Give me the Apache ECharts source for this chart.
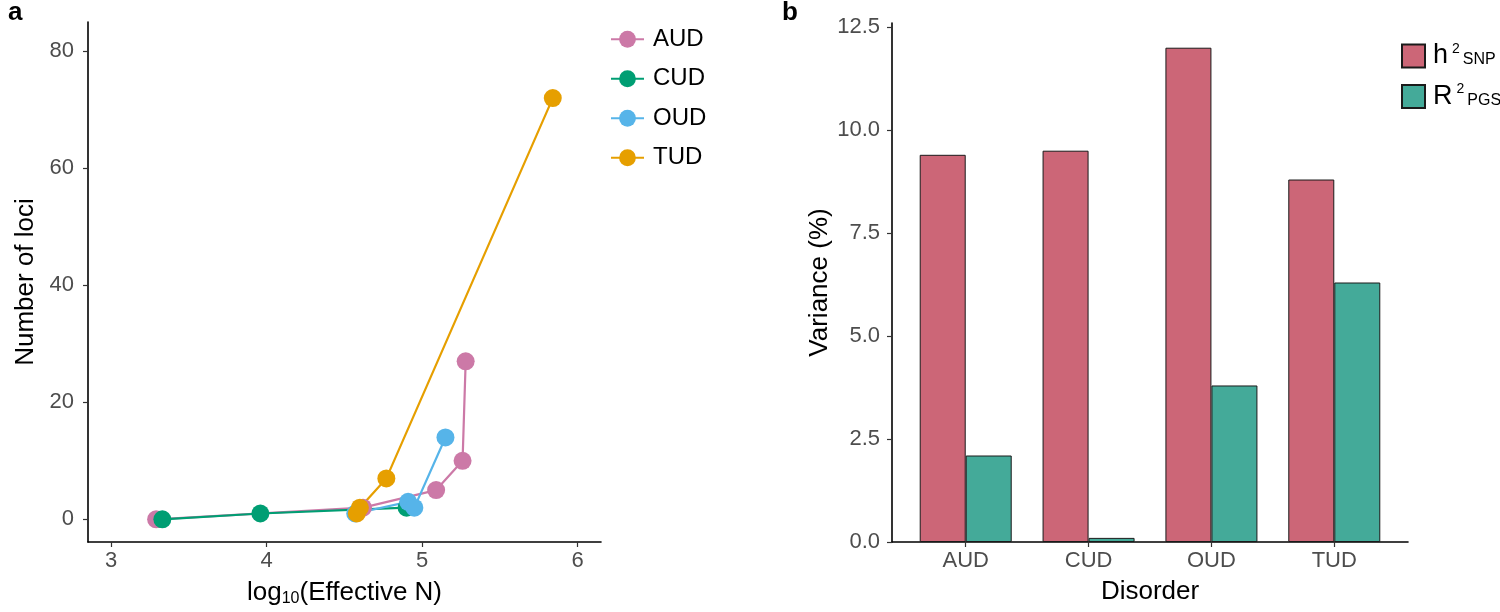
<!DOCTYPE html>
<html>
<head>
<meta charset="utf-8">
<script src="https://cdn.jsdelivr.net/npm/echarts@6/dist/echarts.min.js"></script>
<style>html,body{margin:0;padding:0;background:#fff;}#c{width:1500px;height:612px;}</style>
</head>
<body>
<div id="c"></div>
<script>
// Panel a: number of loci vs log10(effective N)
const disorders = ['AUD', 'CUD', 'OUD', 'TUD'];
const audX = [3.29, 4.62, 5.09, 5.26, 5.28];
const audY = [0, 2, 5, 10, 27];
const cudX = [3.33, 3.96, 4.90];
const cudY = [0, 1, 2];
const oudX = [4.57, 4.91, 4.95, 5.15];
const oudY = [1, 3, 2, 14];
const tudX = [4.58, 4.60, 4.77, 5.84];
const tudY = [1, 2, 7, 72];
const lociXTicks = [3, 4, 5, 6];
const lociYTicks = [0, 20, 40, 60, 80];

// Panel b: variance explained
const barCategories = ['AUD', 'CUD', 'OUD', 'TUD'];
const h2snp = [9.4, 9.5, 12.0, 8.8];
const r2pgs = [2.1, 0.1, 3.8, 6.3];
const varTicks = [0, 2.5, 5, 7.5, 10, 12.5];

const lineColors = ['#CC79A7', '#009E73', '#56B4E9', '#E69F00'];
const barColors = ['#CC6677', '#44AA99'];
const FONT = '"Liberation Sans", Arial, Helvetica, sans-serif';

const zip = (xs, ys) => xs.map((x, i) => [x, ys[i]]);
const lineData = [zip(audX, audY), zip(cudX, cudY), zip(oudX, oudY), zip(tudX, tudY)];

const axisLineStyle = { show: true, onZero: false, lineStyle: { color: '#000', width: 1.6 } };
const tickStyle = { show: true, length: 5, lineStyle: { color: '#333', width: 1.2 } };
const labelStyle = { color: '#4d4d4d', fontSize: 22, fontFamily: FONT };
const nameStyle = { color: '#000', fontSize: 26, fontFamily: FONT };

const chart = echarts.init(document.getElementById('c'), null, { renderer: 'canvas' });
chart.setOption({
  animation: false,
  backgroundColor: '#fff',
  textStyle: { fontFamily: FONT },
  title: [
    { text: 'a', left: 3, top: -5, textStyle: { fontSize: 26, fontWeight: 'bold', color: '#000', fontFamily: FONT } },
    { text: 'b', left: 777, top: -5, textStyle: { fontSize: 26, fontWeight: 'bold', color: '#000', fontFamily: FONT } }
  ],
  grid: [
    { left: 88, top: 22, width: 513, height: 520, containLabel: false },
    { left: 892, top: 23, width: 516, height: 519, containLabel: false }
  ],
  legend: [
    {
      data: disorders,
      orient: 'vertical',
      left: 605,
      top: 22,
      itemGap: 15,
      itemWidth: 33,
      itemHeight: 21,
      textStyle: { color: '#000', fontSize: 24, lineHeight: 24.5, fontFamily: FONT, padding: [0, 0, 0, 4] }
    },
    {
      data: ['h2', 'r2'],
      orient: 'vertical',
      left: 1396,
      top: 37,
      itemGap: 13,
      itemWidth: 23,
      itemHeight: 23,
      icon: 'rect',
      formatter: function (n) {
        return n === 'h2' ? '{b|h}{sup|2}{sub|SNP}' : '{b|R}{sup|2}{sub|PGS}';
      },
      textStyle: {
        color: '#000', fontFamily: FONT,
        rich: {
          b: { fontSize: 27, lineHeight: 28, color: '#000', fontFamily: FONT, padding: [0, 0, 0, 3] },
          sup: { fontSize: 14, color: '#000', fontFamily: FONT, verticalAlign: 'top', padding: [0, 0, 0, 4] },
          sub: { fontSize: 16, color: '#000', fontFamily: FONT, verticalAlign: 'bottom', padding: [0, 0, 2, 3] }
        }
      }
    }
  ],
  xAxis: [
    {
      gridIndex: 0, type: 'value', min: 2.852, max: 6.15,
      axisLine: axisLineStyle,
      axisTick: Object.assign({ customValues: lociXTicks }, tickStyle),
      axisLabel: Object.assign({ customValues: lociXTicks, margin: 8 }, labelStyle),
      splitLine: { show: false },
      name: '{n|log}{s|10}{n|(Effective N)}',
      nameLocation: 'middle', nameGap: 37,
      nameTextStyle: {
        rich: {
          n: { fontSize: 26, color: '#000', fontFamily: FONT },
          s: { fontSize: 16, color: '#000', fontFamily: FONT, verticalAlign: 'bottom', padding: [12, 0, 0, 0] }
        }
      }
    },
    {
      gridIndex: 1, type: 'value', min: 0.4, max: 4.6,
      axisLine: axisLineStyle,
      axisTick: Object.assign({ customValues: [1, 2, 3, 4] }, tickStyle),
      axisLabel: Object.assign({ customValues: [1, 2, 3, 4], margin: 8, formatter: v => barCategories[Math.round(v) - 1] }, labelStyle),
      splitLine: { show: false },
      name: 'Disorder', nameLocation: 'middle', nameGap: 37, nameTextStyle: nameStyle
    }
  ],
  yAxis: [
    {
      gridIndex: 0, type: 'value', min: -3.87, max: 85.0,
      axisLine: axisLineStyle,
      axisTick: Object.assign({ customValues: lociYTicks }, tickStyle),
      axisLabel: Object.assign({ customValues: lociYTicks, margin: 14 }, labelStyle),
      splitLine: { show: false },
      name: 'Number of loci', nameLocation: 'middle', nameGap: 49, nameTextStyle: nameStyle
    },
    {
      gridIndex: 1, type: 'value', min: 0, max: 12.6,
      axisLine: axisLineStyle,
      axisTick: Object.assign({ customValues: varTicks }, tickStyle),
      axisLabel: Object.assign({ customValues: varTicks, margin: 12, formatter: v => v.toFixed(1) }, labelStyle),
      splitLine: { show: false },
      name: 'Variance (%)', nameLocation: 'middle', nameGap: 58, nameTextStyle: nameStyle
    }
  ],
  series: disorders.map((d, i) => ({
    name: d, type: 'line', xAxisIndex: 0, yAxisIndex: 0,
    data: lineData[i],
    symbol: 'circle', symbolSize: 18, showSymbol: true,
    lineStyle: { color: lineColors[i], width: 2.2 },
    itemStyle: { color: lineColors[i] },
    emphasis: { disabled: true }
  })).concat([
    {
      name: 'h2', type: 'bar', xAxisIndex: 1, yAxisIndex: 1,
      data: h2snp.map((v, i) => [i + 1, v]),
      barWidth: 46, barGap: '0%',
      itemStyle: { color: barColors[0], borderColor: '#1a1a1a', borderWidth: 1 }
    },
    {
      name: 'r2', type: 'bar', xAxisIndex: 1, yAxisIndex: 1,
      data: r2pgs.map((v, i) => [i + 1, v]),
      barWidth: 46, barGap: '0%',
      itemStyle: { color: barColors[1], borderColor: '#1a1a1a', borderWidth: 1 }
    }
  ])
});
</script>
</body>
</html>
